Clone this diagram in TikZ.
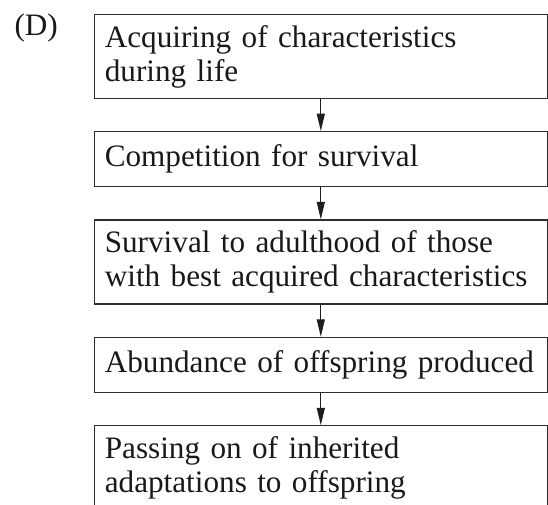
\documentclass[tikz,border=0pt]{standalone}
\usepackage{fontspec}
\setmainfont{Liberation Serif}
\usetikzlibrary{arrows.meta}

\newcommand\stagesize{\fontsize{23.4}{25.5}\selectfont}

\tikzset{every picture/.style={line width=0.75pt}}
\tikzset{
    stagebox/.style={draw={rgb, 255:red, 45; green, 45; blue, 45 }, line width=0.9pt, anchor=north, text width=324pt, inner xsep=7.75pt, inner ysep=0pt, align=left, text={rgb, 255:red, 25; green, 25; blue, 25 }, font=\stagesize},
    oneline/.style={minimum height=41.25pt},
    twoline/.style={minimum height=63pt},
    flowarrow/.style={draw={rgb, 255:red, 30; green, 30; blue, 30 }, line width=0.85pt, -{Triangle[length=13pt,width=6pt]}}
}

\begin{document}
\begin{tikzpicture}[x=0.75pt,y=0.75pt,yscale=-1,xscale=1]
        \useasboundingbox (0,0) rectangle (548,504); %set diagram to 548 x 504

        % Text Node
        \node (tag) [anchor=north west, inner sep=0pt, text={rgb, 255:red, 25; green, 25; blue, 25 }, font=\stagesize] at (14,13) {(D)};

        % Stage boxes
        \node (acquire) [stagebox, twoline] at (320.8,14) {Acquiring of characteristics\\during life};
        \node (compete) [stagebox, oneline] at (320.8,131) {Competition for survival};
        \node (survive) [stagebox, twoline] at (320.8,219.3) {Survival to adulthood of those\\with best acquired characteristics};
        \node (abound) [stagebox, oneline] at (320.8,336.7) {Abundance~of~offspring~produced};
        \node (pass) [stagebox, twoline] at (320.8,425.2) {Passing on of inherited\\adaptations to offspring};

        % Arrows
        \draw [flowarrow] (acquire) -- (compete);
        \draw [flowarrow] (compete) -- (survive);
        \draw [flowarrow] (survive) -- (abound);
        \draw [flowarrow] (abound) -- (pass);

    \end{tikzpicture}
\end{document}
